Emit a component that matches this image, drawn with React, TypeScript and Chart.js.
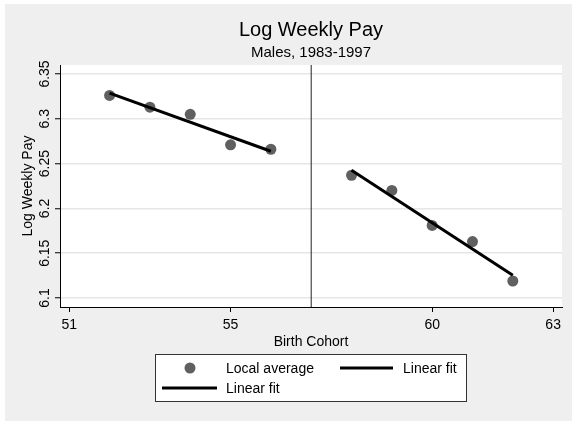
import React, { useEffect, useRef } from "react";
import { Chart, registerables } from "chart.js";

Chart.register(...registerables);

// ---- data ----
const cohortsLeft = [52, 53, 54, 55, 56];
const avgLeft = [6.326, 6.313, 6.305, 6.271, 6.266];
const cohortsRight = [58, 59, 60, 61, 62];
const avgRight = [6.237, 6.22, 6.181, 6.163, 6.119];
const fitLeftX = [52, 56];
const fitLeftY = [6.3286, 6.2638];
const fitRightX = [58, 62];
const fitRightY = [6.2426, 6.1254];
const cutoff = 57;
const xTicks = [51, 55, 60, 63];
const xTickLabels = ["51", "55", "60", "63"];
const yTicks = [6.1, 6.15, 6.2, 6.25, 6.3, 6.35];
const yTickLabels = ["6.1", "6.15", "6.2", "6.25", "6.3", "6.35"];
const xRange = [50.77, 63.22];
const yRange = [6.09, 6.36];

const titleText = "Log Weekly Pay";
const subtitleText = "Males, 1983-1997";
const xTitle = "Birth Cohort";
const yTitle = "Log Weekly Pay";
const legendLabels = ["Local average", "Linear fit", "Linear fit"];

const FONT = "Arial, 'Liberation Sans', Helvetica, sans-serif";
const POINT_COLOR = "#606060";

const decor = {
  id: "decor",
  beforeDraw(chart: any) {
    const { ctx, chartArea: a, width, height } = chart;
    ctx.save();
    ctx.fillStyle = "#ffffff";
    ctx.fillRect(0, 0, width, height);
    ctx.fillStyle = "#EFEFEF";
    ctx.fillRect(5, 4, width - 5, height - 4);
    ctx.fillStyle = "#ffffff";
    ctx.fillRect(a.left, a.top, a.right - a.left, a.bottom - a.top);
    ctx.restore();
  },
  afterDraw(chart: any) {
    const { ctx, chartArea: a } = chart;
    const xs = chart.scales.x;
    const ys = chart.scales.y;
    const cx = (a.left + a.right) / 2;
    ctx.save();
    ctx.fillStyle = "#000";
    ctx.textAlign = "center";
    ctx.textBaseline = "alphabetic";
    // titles
    ctx.font = `20px ${FONT}`;
    ctx.fillText(titleText, cx, 36);
    ctx.font = `15px ${FONT}`;
    ctx.fillText(subtitleText, cx, 57);
    // x tick labels
    ctx.font = `14px ${FONT}`;
    xs.ticks.forEach((t: any) => {
      const idx = xTicks.indexOf(t.value);
      const lab = idx >= 0 ? xTickLabels[idx] : String(t.value);
      ctx.fillText(lab, xs.getPixelForValue(t.value), a.bottom + 22);
    });
    // x title
    ctx.fillText(xTitle, cx, a.bottom + 39);
    // y tick labels (rotated)
    ys.ticks.forEach((t: any) => {
      const idx = yTicks.findIndex((v) => Math.abs(v - t.value) < 1e-9);
      const lab = idx >= 0 ? yTickLabels[idx] : String(t.value);
      ctx.save();
      ctx.translate(a.left - 11, ys.getPixelForValue(t.value));
      ctx.rotate(-Math.PI / 2);
      ctx.fillText(lab, 0, 0);
      ctx.restore();
    });
    // y title
    ctx.save();
    ctx.translate(a.left - 28, (a.top + a.bottom) / 2);
    ctx.rotate(-Math.PI / 2);
    ctx.fillText(yTitle, 0, 0);
    ctx.restore();

    // legend
    const lx = 155.5, ly = 354.5, lw = 311, lh = 47;
    ctx.fillStyle = "#ffffff";
    ctx.fillRect(lx, ly, lw, lh);
    ctx.strokeStyle = "#333";
    ctx.lineWidth = 1;
    ctx.strokeRect(lx, ly, lw, lh);
    ctx.fillStyle = POINT_COLOR;
    ctx.beginPath();
    ctx.arc(190, 368, 5.5, 0, Math.PI * 2);
    ctx.fill();
    ctx.fillStyle = "#000";
    ctx.textAlign = "left";
    ctx.font = `14px ${FONT}`;
    ctx.fillText(legendLabels[0], 226, 373);
    ctx.strokeStyle = "#000";
    ctx.lineWidth = 3;
    ctx.beginPath();
    ctx.moveTo(340, 368);
    ctx.lineTo(393, 368);
    ctx.stroke();
    ctx.fillText(legendLabels[1], 403, 373);
    ctx.beginPath();
    ctx.moveTo(162, 388);
    ctx.lineTo(217, 388);
    ctx.stroke();
    ctx.fillText(legendLabels[2], 226, 393);
    ctx.restore();
  },
};

export default function App() {
  const ref = useRef<HTMLCanvasElement>(null);
  useEffect(() => {
    if (!ref.current) return;
    const pts = [
      ...cohortsLeft.map((x, i) => ({ x, y: avgLeft[i] })),
      ...cohortsRight.map((x, i) => ({ x, y: avgRight[i] })),
    ];
    const chart = new Chart(ref.current, {
      type: "scatter",
      data: {
        datasets: [
          {
            label: legendLabels[1],
            data: fitLeftX.map((x, i) => ({ x, y: fitLeftY[i] })),
            showLine: true,
            borderColor: "#000",
            borderWidth: 3,
            pointRadius: 0,
          },
          {
            label: legendLabels[2],
            data: fitRightX.map((x, i) => ({ x, y: fitRightY[i] })),
            showLine: true,
            borderColor: "#000",
            borderWidth: 3,
            pointRadius: 0,
          },
          {
            label: "cutoff",
            data: [
              { x: cutoff, y: yRange[0] },
              { x: cutoff, y: yRange[1] },
            ],
            showLine: true,
            borderColor: "#222",
            borderWidth: 1,
            pointRadius: 0,
          },
          {
            label: legendLabels[0],
            data: pts,
            backgroundColor: POINT_COLOR,
            borderColor: POINT_COLOR,
            pointRadius: 5.5,
            borderWidth: 0,
          },
        ],
      },
      options: {
        animation: false,
        responsive: false,
        maintainAspectRatio: false,
        layout: { padding: { left: 0, top: 65, right: 10, bottom: 0 } },
        plugins: {
          legend: { display: false },
          title: { display: false },
          tooltip: { enabled: false },
        },
        scales: {
          x: {
            type: "linear",
            min: xRange[0],
            max: xRange[1],
            afterBuildTicks: (s: any) => {
              s.ticks = xTicks.map((v) => ({ value: v }));
            },
            afterFit: (s: any) => {
              s.height = 114;
            },
            ticks: { display: false },
            grid: {
              drawOnChartArea: false,
              drawTicks: true,
              tickLength: 5,
              tickColor: "#000",
              tickWidth: 1,
            },
            border: { display: true, color: "#000", width: 1 },
          },
          y: {
            type: "linear",
            min: yRange[0],
            max: yRange[1],
            afterBuildTicks: (s: any) => {
              s.ticks = yTicks.map((v) => ({ value: v }));
            },
            afterFit: (s: any) => {
              s.width = 60;
            },
            ticks: { display: false },
            grid: {
              color: "#E6E6E6",
              lineWidth: 1.5,
              drawTicks: true,
              tickLength: 5,
              tickColor: "#000",
              tickWidth: 1,
            },
            border: { display: true, color: "#000", width: 1 },
          },
        },
      },
      plugins: [decor],
    } as any);
    return () => chart.destroy();
  }, []);
  return (
    <div style={{ position: "fixed", left: 0, top: 0, width: 572, height: 421 }}>
      <canvas ref={ref} width={572} height={421} style={{ display: "block" }} />
    </div>
  );
}
